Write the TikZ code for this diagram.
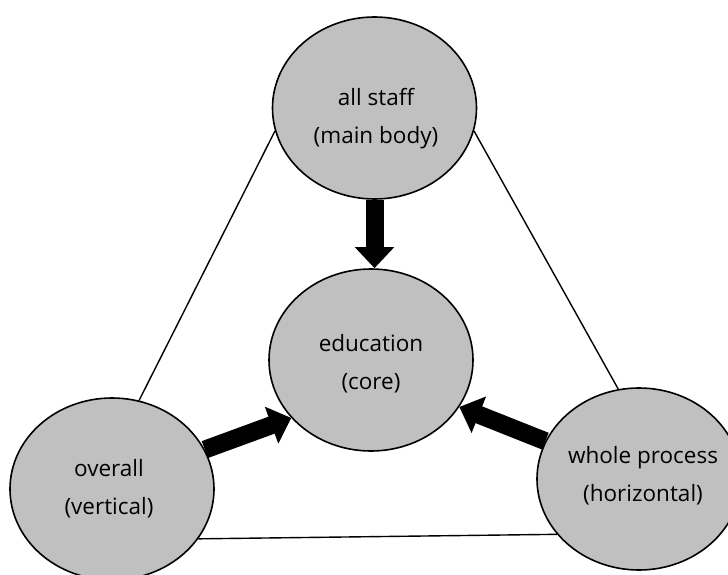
\documentclass[tikz,border=0pt]{standalone}
\usepackage{fontspec}
\setmainfont{Open Sans}
\usetikzlibrary{shapes.geometric,arrows.meta}
\begin{document}
\begin{tikzpicture}[x=1pt,y=-1pt,
  blob/.style={ellipse,draw=black,line width=1.6pt,fill={rgb,255:red,192;green,192;blue,192},
    minimum width=204pt,minimum height=182pt,inner sep=0pt},
  txt/.style={align=center,font=\fontsize{22.5}{38}\selectfont,text=black,inner sep=0pt},
  thin/.style={line width=1.4pt},
  bigarrow/.style={line width=18pt,-{Triangle[width=38pt,length=21pt]}}]
\useasboundingbox (0,0) rectangle (728,575);
\node[blob] (top) at (374.5,108) {};
\node[blob] (core) at (371,360) {};
\node[blob] (left) at (112,489) {};
\node[blob] (right) at (639,479) {};
\node[txt] (toptext) at (376,119) {all staff\\(main body)};
\node[txt] (coretext) at (371,364) {education\\(core)};
\node[txt] (lefttext) at (109,489) {overall\\(vertical)};
\node[txt] (righttext) at (643,476) {whole process\\(horizontal)};
\draw[thin] (top.193) -- (left.73);
\draw[thin] (top.-13) -- (right.103);
\draw[thin] (left.-30) -- (right.214);
\draw[bigarrow] (top.south) -- (top.south |- core.north);
\draw[bigarrow] (left.23) -- (core.216);
\draw[bigarrow] (right.158) -- (core.-28);
\end{tikzpicture}
\end{document}
